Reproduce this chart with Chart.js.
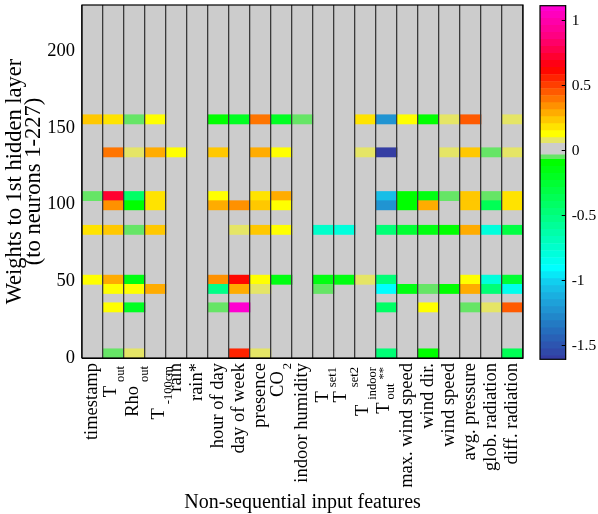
<!DOCTYPE html>
<html>
<head>
<meta charset="utf-8">
<script src="https://cdn.jsdelivr.net/npm/chart.js@4.4.1/dist/chart.umd.min.js"></script>
<style>
  html, body { margin: 0; padding: 0; background: #ffffff; }
  #wrap { position: relative; width: 598px; height: 514px; }
  #weights { position: absolute; left: 0; top: 0; }
  #scale { position: absolute; left: 530px; top: 0; }
</style>
</head>
<body>
<div id="wrap">
  <canvas id="weights" width="598" height="514"></canvas>
  <canvas id="scale" width="68" height="514"></canvas>
</div>
<script>
// ---- input features (x categories) ----
const labelMain = ['timestamp', 'T', 'Rho', 'T', 'rain', 'rain*', 'hour of day', 'day of week',
  'presence', 'CO', 'indoor humidity', 'T', 'T', 'T', 'T', 'max. wind speed', 'wind dir.',
  'wind speed', 'avg. pressure', 'glob. radiation', 'diff. radiation'];
const labelSub = ['', 'out', 'out', '-100cm', '', '', '', '', '', '2', '', 'set1', 'set2',
  'indoor', 'out', '', '', '', '', '', ''];
const labelSup = ['', '', '', '', '', '', '', '', '', '', '', '', '', '', '**', '', '', '', '', '', ''];
const features = labelMain.map((m, i) => m + (labelSup[i] || '') + (labelSub[i] ? '_' + labelSub[i] : ''));

// ---- neuron axis ----
const neuronMax = 230;
const neuronTicks = [0, 50, 100, 150, 200];

// ---- groups of hidden neurons that carry non-zero weights ----
const bandFrom = [0, 30, 42, 48, 80.5, 96.5, 102.5, 131, 152.5];
const bandTo   = [6, 36, 48, 54, 86.5, 102.5, 108.5, 137, 158.5];

// weights per feature, one array per neuron group (0 = zero weight)
const weights_0_6     = [0, -0.05, 0.08, 0, 0, 0, 0, 0.55, 0.08, 0, 0, 0, 0, 0, -0.46, 0, -0.1, 0, 0, 0, -0.35];
const weights_30_36   = [0, 0.12, -0.2, 0, 0, 0, -0.05, 1.1, 0, 0, 0, 0, 0, 0, -0.4, 0, 0.12, 0, -0.05, 0.08, 0.47];
const weights_42_48   = [0, 0.12, 0.12, 0.27, 0, 0, -0.51, 0.3, 0.08, 0, 0, -0.05, 0, 0, -0.9, -0.15, -0.05, -0.1, 0.3, -0.46, -0.84];
const weights_48_54   = [0.12, 0.27, -0.15, 0, 0, 0, 0.33, 0.6, 0.12, -0.15, 0, -0.15, -0.15, 0.08, -0.46, 0, 0, 0, 0.12, -0.8, -0.25];
const weights_80_86   = [0.17, 0.22, -0.05, 0.22, 0, 0, 0, 0.08, 0.22, 0.12, 0, -0.73, -0.78, 0, -0.46, -0.25, -0.15, -0.1, 0.27, -0.78, -0.3];
const weights_96_102  = [0, 0.33, -0.1, 0.17, 0, 0, 0.3, 0.33, 0.22, 0.12, 0, 0, 0, 0, -1.2, -0.1, 0.3, 0, 0.22, -0.35, 0.17];
const weights_102_108 = [-0.05, 0.7, -0.4, 0.17, 0, 0, 0.12, 0, 0.17, 0.27, 0, 0, 0, 0, -1.08, -0.1, -0.15, -0.05, 0.22, -0.05, 0.17];
const weights_131_137 = [0, 0.38, 0.08, 0.27, 0.12, 0, 0.22, 0, 0.27, 0.12, 0, 0, 0, 0.08, -1.58, 0, 0, 0.08, 0.22, -0.05, 0.08];
const weights_152_158 = [0.22, 0.17, -0.05, 0.12, 0, 0, -0.1, -0.2, 0.38, -0.2, -0.05, 0, 0, 0.17, -1.2, 0.12, -0.1, 0.08, 0.43, 0, 0.08];
const bandWeights = [weights_0_6, weights_30_36, weights_42_48, weights_48_54, weights_80_86,
  weights_96_102, weights_102_108, weights_131_137, weights_152_158];

// ---- colour scale ----
const colorMin = -1.605;
const colorMax = 1.115;
const colorTicks = [-1.5, -1, -0.5, 0, 0.5, 1];

const FONT = "'Liberation Serif', 'Times New Roman', serif";
const STEP = 0.054;
const posStops = [[0.1, '#ffff00'], [0.6, '#ff0000'], [0.85, '#ff0080'], [1.2, '#ff00ff']];
const negStops = [[-0.066, '#00ff00'], [-0.88, '#00ffff'], [-1.0, '#14c8ec'], [-1.15, '#1ea0d8'],
  [-1.35, '#2470be'], [-1.7, '#3d2294']];

function rgb(h) { return [1, 3, 5].map(k => parseInt(h.substr(k, 2), 16)); }
function interp(stops, v) {
  for (let i = 0; i < stops.length - 1; i++) {
    const [a, ca] = stops[i], [b, cb] = stops[i + 1];
    const lo = Math.min(a, b), hi = Math.max(a, b);
    if (v >= lo && v <= hi) {
      const t = (v - a) / (b - a);
      const A = rgb(ca), B = rgb(cb);
      return 'rgb(' + A.map((x, k) => Math.round(x + (B[k] - x) * t)).join(',') + ')';
    }
  }
  return stops[stops.length - 1][1];
}
// stepped colour map with a grey band around zero
function colorFor(v) {
  if (v >= 0.1) return interp(posStops, 0.1 + Math.floor((v - 0.1) / STEP) * STEP);
  if (v >= 0.057) return '#e5e566';
  if (v >= -0.033) return '#cccccc';
  if (v >= -0.066) return '#66e566';
  return interp(negStops, -0.066 - Math.floor((-0.066 - v) / STEP) * STEP);
}

// ---- heat map: floating bars, one dataset per neuron group ----
const datasets = [{
  data: features.map(() => [0, neuronMax]),
  backgroundColor: colorFor(0),
  order: 1
}];
bandWeights.forEach((w, b) => {
  datasets.push({
    data: w.map(v => (v === 0 ? null : [bandFrom[b], bandTo[b]])),
    backgroundColor: w.map(v => colorFor(v)),
    order: 0
  });
});

const framePlugin = {
  id: 'frame',
  afterDraw(chart) {
    const { ctx, chartArea: a } = chart;
    ctx.save();
    ctx.strokeStyle = '#000';
    ctx.lineWidth = 1.2;
    ctx.strokeRect(a.left, a.top, a.right - a.left, a.bottom - a.top);
    ctx.restore();
  }
};

// rotated feature names with sub/superscripts
function drawRot(ctx, text, font, x, yEnd, baseline) {
  ctx.save();
  ctx.font = font;
  ctx.translate(x, yEnd);
  ctx.rotate(-Math.PI / 2);
  ctx.textAlign = 'right';
  ctx.textBaseline = baseline;
  ctx.fillText(text, 0, 0);
  const w = ctx.measureText(text).width;
  ctx.restore();
  return w;
}
// [main baseline, sub baseline, sup baseline, sub end, gap] relative to the column centre / label top
const subShift = {
  1: [2, 10, 0, 3, 4], 2: [3, 13, 0, 3, 4], 3: [8, 16, 0, 3, 4], 9: [1, 9, 0, 0, 2],
  11: [4, 12, 0, 4, 4], 12: [1, 13, 0, 4, 4], 13: [2, 10, 0, 4, 5], 14: [2, 7, 0, 4, 3]
};
const featureLabels = {
  id: 'featureLabels',
  afterDraw(chart) {
    const ctx = chart.ctx, xs = chart.scales.x;
    const top = chart.chartArea.bottom + 5;
    const mainFont = '18.5px ' + FONT, subFont = '12.5px ' + FONT;
    ctx.save();
    ctx.fillStyle = '#000';
    labelMain.forEach((m, i) => {
      const cx = xs.getPixelForValue(i);
      if (!labelSub[i]) {
        drawRot(ctx, m, mainFont, cx, top, 'middle');
        return;
      }
      const s = subShift[i];
      let y = top + s[3];
      if (labelSup[i]) {
        y += drawRot(ctx, labelSup[i], subFont, cx + s[2], y, 'alphabetic') + 4;
      }
      y += drawRot(ctx, labelSub[i], subFont, cx + s[1], y, 'alphabetic') + s[4];
      drawRot(ctx, m, mainFont, cx + s[0], y, 'alphabetic');
    });
    ctx.restore();
  }
};

new Chart(document.getElementById('weights'), {
  type: 'bar',
  data: { labels: features, datasets },
  options: {
    responsive: false,
    animation: false,
    layout: { padding: { left: 0, right: 75, top: 5, bottom: 0 } },
    datasets: { bar: { grouped: false, barPercentage: 1, categoryPercentage: 1, borderWidth: 0 } },
    plugins: { legend: { display: false }, tooltip: { enabled: false } },
    scales: {
      x: {
        grid: { z: 1, offset: true, color: '#3a3a3a', lineWidth: 1.3, drawTicks: false },
        border: { display: true, color: '#000', width: 1, z: 1 },
        ticks: { display: false },
        title: {
          display: true, text: 'Non-sequential input features', color: '#000',
          font: { family: FONT, size: 20, lineHeight: 1.1 }, padding: { top: 0, bottom: 0 }
        },
        afterFit: s => { s.height = 156; s.paddingLeft = 0; s.paddingRight = 0; }
      },
      y: {
        min: 0, max: neuronMax,
        afterBuildTicks: s => { s.ticks = neuronTicks.map(v => ({ value: v })); },
        grid: { display: false, drawTicks: false },
        border: { display: true, color: '#000', width: 1 },
        ticks: { font: { family: FONT, size: 18.5 }, color: '#000', padding: 7 },
        title: {
          display: true, text: ['Weights to 1st hidden layer', '(to neurons 1-227)'], color: '#000',
          font: { family: FONT, size: 22.5, lineHeight: 0.84 }, padding: { top: 6, bottom: 0 }
        },
        afterFit: s => { s.width = 82; s.paddingTop = 0; s.paddingBottom = 0; }
      }
    }
  },
  plugins: [framePlugin, featureLabels]
});

// ---- colour bar: stacked segments of the stepped colour map ----
const edges = [colorMin];
for (let v = -0.066 - Math.floor((-0.066 - colorMin) / STEP) * STEP; v < -0.066 - 1e-9; v += STEP) {
  if (v > colorMin + 1e-9) edges.push(v);
}
edges.push(-0.066, -0.033, 0.057);
for (let v = 0.1; v < colorMax - 1e-9; v += STEP) edges.push(v);
edges.push(colorMax);
const segments = [];
for (let i = 0; i < edges.length - 1; i++) segments.push([edges[i], edges[i + 1]]);

new Chart(document.getElementById('scale'), {
  type: 'bar',
  data: {
    labels: [''],
    datasets: segments.map(([lo, hi]) => ({ data: [[lo, hi]], backgroundColor: colorFor((lo + hi) / 2) }))
  },
  options: {
    responsive: false,
    animation: false,
    layout: { padding: { left: 10, right: 0, top: 5.7, bottom: 154.7 } },
    datasets: { bar: { grouped: false, barPercentage: 1, categoryPercentage: 1, borderWidth: 0 } },
    plugins: { legend: { display: false }, tooltip: { enabled: false } },
    scales: {
      x: { display: false },
      y: {
        position: 'right',
        min: colorMin, max: colorMax,
        afterBuildTicks: s => { s.ticks = colorTicks.map(v => ({ value: v })); },
        grid: { z: 1, display: true, drawOnChartArea: false, drawTicks: true, tickLength: -4, color: '#000' },
        border: { display: true, color: '#000', width: 1, z: 1 },
        ticks: { font: { family: FONT, size: 15.5 }, color: '#000', padding: 10, callback: v => String(v) },
        afterFit: s => { s.width = 32.3; s.paddingTop = 0; s.paddingBottom = 0; }
      }
    }
  },
  plugins: [framePlugin]
});
</script>
</body>
</html>
